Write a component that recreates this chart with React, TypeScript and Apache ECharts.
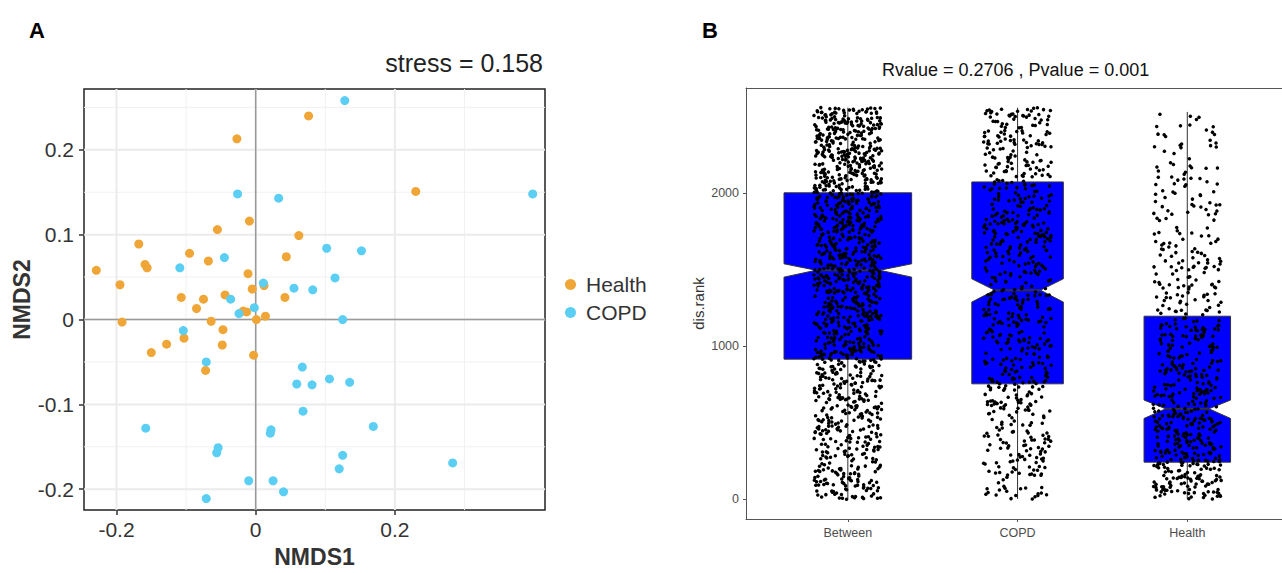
import React, { useEffect, useRef } from "react";
import * as echarts from "echarts";

const FONT = "'Liberation Sans', Arial, Helvetica, sans-serif";

// ---------- Panel A : NMDS ordination ----------
const healthPoints: number[][] = [
  [0.076, 0.24], [-0.027, 0.213], [-0.009, 0.116], [-0.055, 0.106], [0.062, 0.099],
  [-0.168, 0.089], [-0.095, 0.078], [-0.068, 0.069], [0.044, 0.074], [-0.159, 0.065],
  [-0.156, 0.061], [-0.229, 0.058], [-0.011, 0.054], [-0.195, 0.041], [-0.005, 0.036],
  [0.012, 0.04], [-0.107, 0.026], [-0.075, 0.024], [-0.044, 0.029], [0.042, 0.026],
  [0.23, 0.151], [-0.085, 0.013], [-0.018, 0.01], [-0.013, 0.009], [0.014, 0.004],
  [0.001, 0.0], [-0.064, -0.002], [-0.192, -0.003], [-0.047, -0.012], [-0.103, -0.022],
  [-0.128, -0.029], [-0.048, -0.03], [-0.15, -0.039], [-0.003, -0.042], [-0.072, -0.06],
];
const copdPoints: number[][] = [
  [-0.026, 0.148], [0.033, 0.143], [-0.045, 0.073], [-0.109, 0.061], [0.011, 0.043],
  [0.055, 0.037], [0.082, 0.035], [-0.036, 0.024], [0.128, 0.258], [0.398, 0.148],
  [0.102, 0.084], [0.152, 0.081], [0.114, 0.049], [-0.002, 0.014], [-0.024, 0.007],
  [-0.104, -0.013], [-0.071, -0.05], [0.067, -0.056], [0.059, -0.076], [0.081, -0.077],
  [0.068, -0.108], [-0.158, -0.128], [0.022, -0.13], [0.021, -0.134], [-0.054, -0.151],
  [-0.056, -0.157], [-0.01, -0.19], [0.025, -0.19], [0.04, -0.203], [-0.071, -0.211],
  [0.125, 0.0], [0.106, -0.07], [0.135, -0.074], [0.169, -0.126], [0.125, -0.16],
  [0.12, -0.176], [0.283, -0.169],
];
const nmdsXTicks = [-0.2, 0, 0.2];
const nmdsXMinor = [-0.1, 0.1, 0.3];
const nmdsYTicks = [-0.2, -0.1, 0, 0.1, 0.2];
const nmdsYMinor = [-0.15, -0.05, 0.05, 0.15, 0.25];
const stressText = "stress = 0.158";

// ---------- Panel B : ANOSIM rank boxplots ----------
const boxGroups = ["Between", "COPD", "Health"];
const boxQ1 = [915, 754, 243];
const boxNotchLow = [1450, 1287, 528];
const boxMedian = [1495, 1365, 591];
const boxNotchHigh = [1537, 1439, 648];
const boxQ3 = [2000, 2071, 1195];
const whiskerLow = [1, 3, 2];
const whiskerHigh = [2556, 2556, 2528];
const rankTicks = [0, 1000, 2000];
const anosimText = "Rvalue = 0.2706 , Pvalue = 0.001";

// pairwise distance ranks between all samples, grouped Between / COPD / Health
function buildRankPoints(): number[][] {
  const samples = [
    ...healthPoints.map((p) => ({ p, g: "H" })),
    ...copdPoints.map((p) => ({ p, g: "C" })),
  ];
  const pairs: { d: number; group: number; rank: number }[] = [];
  for (let i = 0; i < samples.length; i++) {
    for (let j = i + 1; j < samples.length; j++) {
      const a = samples[i], b = samples[j];
      const d = Math.hypot(a.p[0] - b.p[0], a.p[1] - b.p[1]);
      let group = 0;
      if (a.g === "C" && b.g === "C") group = 1;
      else if (a.g === "H" && b.g === "H") group = 2;
      pairs.push({ d, group, rank: 0 });
    }
  }
  const order = pairs.map((_, k) => k).sort((a, b) => pairs[a].d - pairs[b].d);
  order.forEach((k, r) => (pairs[k].rank = r + 1));
  const counters = [0, 0, 0];
  return pairs.map((pr) => {
    const k = counters[pr.group]++;
    const spread = (((k * 0.6180339887) % 1) - 0.5) * 0.4; // geom_jitter width 0.2
    return [pr.group + 1 + spread, pr.rank];
  });
}

function groupSize(i: number) {
  const nh = healthPoints.length, nc = copdPoints.length;
  if (i === 0) return nh * nc;
  if (i === 1) return (nc * (nc - 1)) / 2;
  return (nh * (nh - 1)) / 2;
}

function buildOption() {
  const rankPoints = buildRankPoints();
  const nMax = Math.max(groupSize(0), groupSize(1), groupSize(2));
  const halfW = [0, 1, 2].map((i) => 0.376 * Math.sqrt(groupSize(i) / nMax));

  const gridLineData = [
    ...nmdsXMinor.map((v) => [0, v, 1]),
    ...nmdsYMinor.map((v) => [1, v, 1]),
    ...nmdsXTicks.map((v) => [0, v, 0]),
    ...nmdsYTicks.map((v) => [1, v, 0]),
    [0, 0, 2],
    [1, 0, 2],
  ];

  const boxData = boxGroups.map((_, i) => [
    i + 1, boxQ1[i], boxNotchLow[i], boxMedian[i], boxNotchHigh[i], boxQ3[i], whiskerLow[i], whiskerHigh[i], i,
  ]);

  const bAxisLine = { show: true, onZero: false, lineStyle: { color: "#555", width: 1 } };

  return {
    animation: false,
    textStyle: { fontFamily: FONT },
    title: [
      { text: "A", left: 29, top: 19, padding: 0, textStyle: { fontSize: 22, fontWeight: "bold", color: "#000", fontFamily: FONT } },
      { text: stressText, right: 739, top: 50, padding: 0, textStyle: { fontSize: 25, fontWeight: "normal", color: "#222", fontFamily: FONT } },
      { text: "B", left: 702, top: 19, padding: 0, textStyle: { fontSize: 22, fontWeight: "bold", color: "#000", fontFamily: FONT } },
      { text: anosimText, left: 882, top: 61, padding: 0, textStyle: { fontSize: 18, fontWeight: "normal", color: "#111", fontFamily: FONT } },
    ],
    legend: {
      data: ["Health", "COPD"],
      orient: "vertical",
      left: 565,
      top: 274,
      padding: 0,
      itemWidth: 21,
      itemHeight: 11,
      itemGap: 7,
      icon: "circle",
      textStyle: { fontSize: 21, color: "#333", fontFamily: FONT },
    },
    grid: [
      { left: 84, top: 89, width: 461, height: 429, show: true, borderColor: "#222", borderWidth: 1.5, backgroundColor: "#fff" },
      { left: 746, top: 88, width: 536, height: 431, show: false },
    ],
    xAxis: [
      {
        gridIndex: 0, type: "value", min: -0.2467, max: 0.4157,
        name: "NMDS1", nameLocation: "middle", nameGap: 32,
        nameTextStyle: { fontSize: 23, fontWeight: "bold", color: "#333", fontFamily: FONT },
        axisLine: { show: false, onZero: false },
        axisTick: { show: true, customValues: nmdsXTicks, length: 5, lineStyle: { color: "#333", width: 1.5 } },
        axisLabel: { customValues: nmdsXTicks, margin: 9, fontSize: 21, color: "#333", fontFamily: FONT, formatter: (v: number) => String(Math.round(v * 10) / 10) },
        splitLine: { show: false },
      },
      {
        gridIndex: 1, type: "value", min: 0.4, max: 3.558, position: "bottom",
        axisLine: bAxisLine,
        axisTick: { show: true, customValues: [1, 2, 3], length: 3, lineStyle: { color: "#555" } },
        axisLabel: { customValues: [1, 2, 3], margin: 7, fontSize: 12.5, color: "#4d4d4d", fontFamily: FONT, formatter: (v: number) => boxGroups[Math.round(v) - 1] },
        splitLine: { show: false },
      },
      {
        gridIndex: 1, type: "value", min: 0.4, max: 3.558, position: "top",
        axisLine: bAxisLine, axisTick: { show: false }, axisLabel: { show: false }, splitLine: { show: false },
      },
    ],
    yAxis: [
      {
        gridIndex: 0, type: "value", min: -0.2246, max: 0.2717,
        name: "NMDS2", nameLocation: "middle", nameGap: 50, nameRotate: 90,
        nameTextStyle: { fontSize: 23, fontWeight: "bold", color: "#333", fontFamily: FONT },
        axisLine: { show: false, onZero: false },
        axisTick: { show: true, customValues: nmdsYTicks, length: 5, lineStyle: { color: "#333", width: 1.5 } },
        axisLabel: { customValues: nmdsYTicks, margin: 10, fontSize: 21, color: "#333", fontFamily: FONT, formatter: (v: number) => String(Math.round(v * 10) / 10) },
        splitLine: { show: false },
      },
      {
        gridIndex: 1, type: "value", min: -128, max: 2684,
        name: "dis.rank", nameLocation: "middle", nameGap: 40, nameRotate: 90,
        nameTextStyle: { fontSize: 15, color: "#333", fontFamily: FONT },
        axisLine: bAxisLine,
        axisTick: { show: true, customValues: rankTicks, length: 3, lineStyle: { color: "#555" } },
        axisLabel: { customValues: rankTicks, margin: 7, fontSize: 12.5, color: "#4d4d4d", fontFamily: FONT, formatter: (v: number) => String(Math.round(v)) },
        splitLine: { show: false },
      },
    ],
    series: [
      {
        type: "custom", name: "grid", xAxisIndex: 0, yAxisIndex: 0, silent: true, z: 1,
        data: gridLineData,
        renderItem: (params: any, api: any) => {
          const cs = params.coordSys;
          const o = api.value(0), v = api.value(1), t = api.value(2);
          const style = t === 2 ? { stroke: "#9a9a9a", lineWidth: 1.5 } : t === 0 ? { stroke: "#ebebeb", lineWidth: 2 } : { stroke: "#f1f1f1", lineWidth: 1 };
          if (o === 0) {
            const x = api.coord([v, 0])[0];
            return { type: "line", shape: { x1: x, y1: cs.y, x2: x, y2: cs.y + cs.height }, style };
          }
          const y = api.coord([0, v])[1];
          return { type: "line", shape: { x1: cs.x, y1: y, x2: cs.x + cs.width, y2: y }, style };
        },
      },
      {
        type: "scatter", name: "Health", xAxisIndex: 0, yAxisIndex: 0, z: 3,
        symbolSize: 9, itemStyle: { color: "#EFA637", opacity: 1 }, data: healthPoints,
      },
      {
        type: "scatter", name: "COPD", xAxisIndex: 0, yAxisIndex: 0, z: 3,
        symbolSize: 9, itemStyle: { color: "#5BCEF4", opacity: 1 }, data: copdPoints,
      },
      {
        type: "custom", name: "box", xAxisIndex: 1, yAxisIndex: 1, silent: true, z: 2,
        data: boxData,
        renderItem: (params: any, api: any) => {
          const x = api.value(0);
          const q1 = api.value(1), nlo = api.value(2), med = api.value(3), nhi = api.value(4), q3 = api.value(5);
          const wlo = api.value(6), whi = api.value(7);
          const hw = halfW[api.value(8)];
          const L = x - hw, R = x + hw, nl = x - hw / 2, nr = x + hw / 2;
          const pts = [[L, q3], [R, q3], [R, nhi], [nr, med], [R, nlo], [R, q1], [L, q1], [L, nlo], [nl, med], [L, nhi]].map((p) => api.coord(p));
          const top = api.coord([x, whi]), q3c = api.coord([x, q3]), q1c = api.coord([x, q1]), bot = api.coord([x, wlo]);
          const ml = api.coord([nl, med]), mr = api.coord([nr, med]);
          const lineStyle = { stroke: "#333", lineWidth: 1 };
          return {
            type: "group",
            children: [
              { type: "line", shape: { x1: top[0], y1: top[1], x2: q3c[0], y2: q3c[1] }, style: lineStyle },
              { type: "line", shape: { x1: q1c[0], y1: q1c[1], x2: bot[0], y2: bot[1] }, style: lineStyle },
              { type: "polygon", shape: { points: pts }, style: { fill: "#0000FF", stroke: "#333", lineWidth: 1 } },
              { type: "line", shape: { x1: ml[0], y1: ml[1], x2: mr[0], y2: mr[1] }, style: { stroke: "#333", lineWidth: 2 } },
            ],
          };
        },
      },
      {
        type: "scatter", name: "ranks", xAxisIndex: 1, yAxisIndex: 1, z: 3, silent: true,
        symbolSize: 3.5, itemStyle: { color: "#000", opacity: 1 }, data: rankPoints,
      },
    ],
  };
}

export default function App() {
  const ref = useRef<HTMLDivElement>(null);
  useEffect(() => {
    document.body.style.margin = "0";
    const chart = echarts.init(ref.current!, undefined, { renderer: "svg" });
    chart.setOption(buildOption() as any);
    return () => chart.dispose();
  }, []);
  return <div ref={ref} style={{ width: 1282, height: 573, background: "#fff" }} />;
}
